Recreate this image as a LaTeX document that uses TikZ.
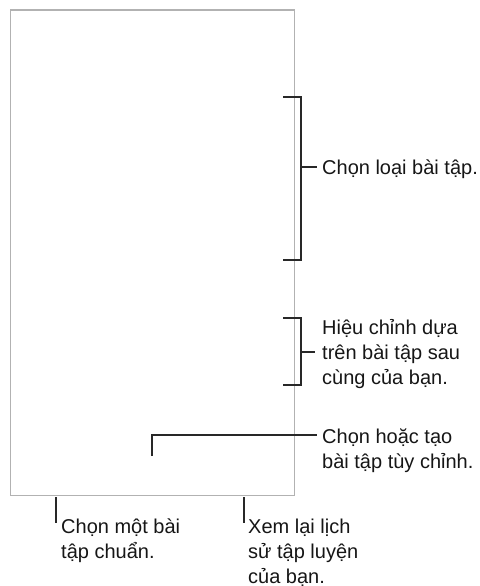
\documentclass[tikz,border=0pt]{standalone}
\usepackage{fontspec}
\setmainfont{Liberation Sans}
\definecolor{screengray}{RGB}{178,178,178}
\definecolor{leadgray}{RGB}{40,40,40}
\definecolor{txt}{RGB}{22,22,22}
\begin{document}
\begin{tikzpicture}[x=1pt,y=-1pt,
  screen/.style={draw=screengray, line width=1.3pt, inner sep=0pt, anchor=north west},
  lead/.style={draw=leadgray, line width=1.4pt},
  lbl/.style={font=\fontsize{20}{25}\selectfont, text=txt, inner sep=0pt, anchor=base west, align=left}]
\useasboundingbox (0,0) rectangle (479,586);
\node[screen, minimum width=284pt, minimum height=485pt] (screen) at (9.5,9.5) {};
% labels (base anchor = baseline of the last line)
\node[lbl] (l1) at (322,174) {Chọn loại bài tập.};
\node[lbl] (l2) at (322,384) {Hiệu chỉnh dựa\\trên bài tập sau\\cùng của bạn.};
\node[lbl] (l3) at (322,468) {Chọn hoặc tạo\\bài tập tùy chỉnh.};
\node[lbl] (l4) at (61,558) {Chọn một bài\\tập chuẩn.};
\node[lbl] (l5) at (248,583) {Xem lại lịch\\sử tập luyện\\của bạn.};
% bracket 1
\coordinate (b1t) at (283,97);
\coordinate (b1b) at (283,260);
\coordinate (b1m) at (301,167);
\draw[lead] (b1t) -- ++(18,0) |- (b1b);
\draw[lead] (b1m) -- ([xshift=-5pt]b1m -| l1.west);
% bracket 2
\coordinate (b2t) at (283,318);
\coordinate (b2b) at (283,385);
\coordinate (b2m) at (301,352);
\draw[lead] (b2t) -- ++(18,0) |- (b2b);
\draw[lead] (b2m) -- ([xshift=-7pt]b2m -| l2.west);
% leader 3
\coordinate (c3) at (152,456);
\coordinate (c3k) at (152,435);
\draw[lead] (c3) -- (c3k) -- ([xshift=-5pt]c3k -| l3.west);
% bottom leaders
\coordinate (c4t) at (56,497);
\coordinate (c4b) at (56,523);
\draw[lead] (c4t) -- (c4b);
\coordinate (c5t) at (244,497);
\coordinate (c5b) at (244,523);
\draw[lead] (c5t) -- (c5b);
\end{tikzpicture}
\end{document}
